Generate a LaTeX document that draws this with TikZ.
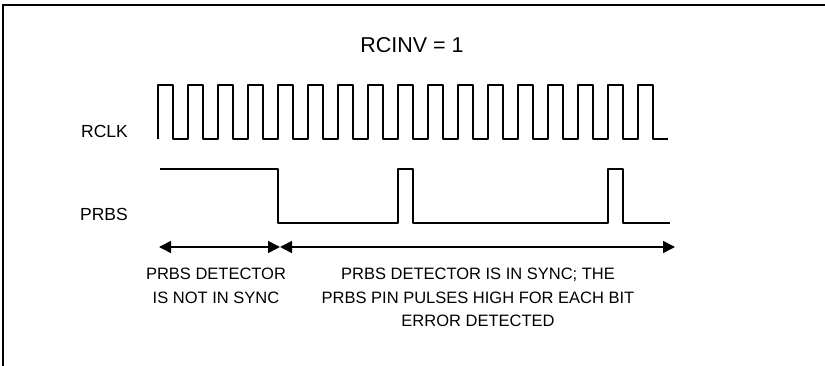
\documentclass[tikz,border=0pt]{standalone}
\usepackage{fontspec}
\setmainfont{Liberation Sans}
\usetikzlibrary{arrows.meta}
\begin{document}
\begin{tikzpicture}[x=1pt,y=-1pt,
  wave/.style={line width=1.8pt, line join=round},
  frame/.style={line width=1.8pt},
  dimline/.style={line width=1.6pt, {Triangle[length=12pt,width=12pt]}-{Triangle[length=12pt,width=12pt]}},
  lbl/.style={font=\fontsize{16.5}{23.5}\selectfont, inner sep=0pt},
  side/.style={font=\fontsize{17.5}{21}\selectfont, inner sep=0pt},
  ttl/.style={font=\fontsize{21.5}{24}\selectfont, inner sep=0pt}]
\useasboundingbox (0,0) rectangle (825,366);
\fill[white] (0,0) rectangle (825,366);
\draw[frame] (3,366) -- (3,5) -- (825,5);
% clock
\draw[wave] (158,139) \foreach \k in {0,...,16} { -- ++(0,-54) -- ++(15,0) -- ++(0,54) -- ++(15,0) };
% prbs
\draw[wave] (160,169) -- (278,169) -- (278,223) -- (398,223) -- (398,169) -- (413,169)
  -- (413,223) -- (608,223) -- (608,169) -- (623,169) -- (623,223) -- (670,223);
% arrows
\coordinate (a1) at (159,247);
\coordinate (a2) at (280,247);
\coordinate (a3) at (675,247);
\draw[dimline] (a1) -- (a2);
\draw[dimline] (a2) -- (a3);
% labels
\node[ttl] (title) at (412,45) {RCINV = 1};
\node[side, anchor=east] (rclk) at (128,131) {RCLK};
\node[side, anchor=east] (prbs) at (128,214) {PRBS};
\node[lbl, align=center, anchor=north] (nsync) at (216,268) {PRBS DETECTOR\\IS NOT IN SYNC};
\node[lbl, align=center, anchor=north] (sync) at (478,268) {PRBS DETECTOR IS IN SYNC; THE\\PRBS PIN PULSES HIGH FOR EACH BIT\\ERROR DETECTED};
\end{tikzpicture}
\end{document}
